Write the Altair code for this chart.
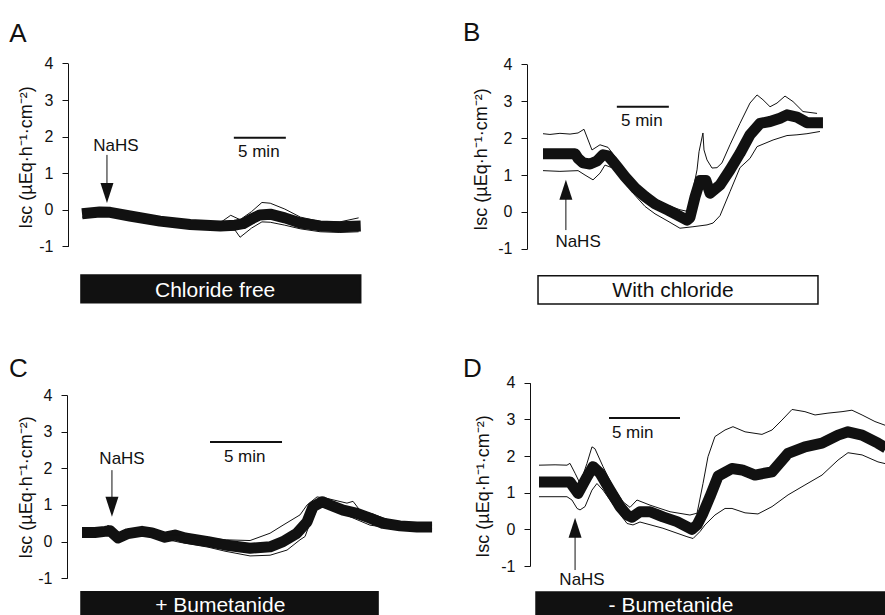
import altair as alt
import pandas as pd

FONT = "Liberation Sans"
INK = "#111111"
TITLE = "Isc (µEq·h⁻¹·cm⁻²)"

# ---------------- data (time in min, Isc in µEq·h-1·cm-2) ----------------
# Panel A - chloride free
A_T_MEAN = [0, 1.7, 2.7, 4.6, 7.5, 10.4, 13.3, 14.7, 15.5, 16.3, 17.1, 18.1, 19.5, 21.0, 22.9, 24.8, 26.8]
A_MEAN = [-0.11, -0.06, -0.07, -0.17, -0.31, -0.40, -0.44, -0.42, -0.38, -0.25, -0.14, -0.12, -0.22, -0.36, -0.44, -0.46, -0.44]
A_T_UP = [0, 1.7, 2.7, 4.6, 7.5, 10.4, 13.3, 14.3, 15.2, 16.3, 17.3, 18.1, 19.5, 21.0, 22.9, 24.8, 26.6]
A_UP = [0.0, 0.04, 0.03, -0.07, -0.22, -0.31, -0.35, -0.15, -0.27, -0.05, 0.2, 0.18, 0.02, -0.2, -0.32, -0.33, -0.22]
A_T_LO = [0, 1.7, 2.7, 4.6, 7.5, 10.4, 13.3, 14.7, 15.2, 16.3, 17.3, 18.1, 19.5, 21.0, 22.9, 24.8, 26.6]
A_LO = [-0.2, -0.15, -0.16, -0.27, -0.41, -0.5, -0.56, -0.55, -0.75, -0.5, -0.33, -0.34, -0.42, -0.52, -0.6, -0.62, -0.6]

# Panel B - with chloride
B_T_MEAN = [0, 3.08, 3.37, 3.85, 4.52, 5.19, 5.77, 6.25, 6.63, 7.21, 7.88, 8.85, 9.81, 10.77, 12.02,
            13.17, 13.85, 14.13, 14.62, 15.1, 15.67, 16.06, 17.02, 17.98, 18.94, 19.9, 20.87, 21.83,
            22.79, 23.46, 24.42, 25.38, 26.92]
B_MEAN = [1.58, 1.58, 1.45, 1.33, 1.3, 1.38, 1.55, 1.52, 1.4, 1.2, 0.96, 0.65, 0.42, 0.22, 0.05,
          -0.12, -0.22, -0.15, 0.41, 0.85, 0.85, 0.51, 0.73, 1.14, 1.59, 2.09, 2.4, 2.45,
          2.54, 2.63, 2.57, 2.42, 2.42]
B_T_UP = [0, 0.67, 1.63, 2.6, 3.37, 3.94, 4.71, 5.48, 6.25, 6.92, 7.88, 8.85, 9.81, 10.77, 12.02,
          13.17, 13.85, 14.42, 14.81, 15.0, 15.38, 15.48, 15.77, 16.25, 16.73, 17.21, 17.98, 18.94,
          19.9, 20.58, 21.15, 21.83, 22.5, 23.27, 24.04, 25.0, 26.35]
B_UP = [2.12, 2.1, 2.13, 2.11, 2.14, 2.24, 1.68, 1.82, 1.75, 1.5, 1.1, 0.78, 0.55, 0.36, 0.18,
        0.06, 0.02, 0.6, 1.14, 1.63, 2.14, 1.68, 1.41, 1.19, 1.2, 1.33, 1.82, 2.4,
        2.95, 3.17, 3.04, 2.85, 2.95, 3.14, 2.99, 2.72, 2.67]
B_T_LO = [0, 1.63, 3.37, 4.04, 4.81, 5.48, 5.96, 6.63, 7.88, 8.85, 9.81, 10.77, 12.02, 13.17,
          14.42, 15.77, 16.35, 17.02, 17.98, 18.94, 19.9, 20.58, 22.12, 23.46, 24.42, 25.38, 26.63]
B_LO = [1.12, 1.1, 1.12, 1.0, 0.87, 1.05, 1.27, 1.2, 0.8, 0.45, 0.15, -0.05, -0.25, -0.44,
        -0.4, -0.35, -0.3, -0.1, 0.55, 1.2, 1.45, 1.77, 1.95, 2.07, 2.09, 2.12, 2.18]

# Panel C - + bumetanide
C_T_MEAN = [0, 0.9, 1.6, 1.94, 2.5, 3.19, 4.17, 4.86, 5.76, 6.46, 7.15, 8.75, 9.93, 11.67, 13.06,
            13.96, 14.93, 15.63, 16.04, 16.67, 17.22, 18.13, 19.1, 20.0, 20.9, 22.08, 23.26, 24.31]
C_MEAN = [0.25, 0.25, 0.28, 0.3, 0.1, 0.22, 0.28, 0.24, 0.12, 0.18, 0.1, 0.0, -0.09, -0.18, -0.14,
          0.0, 0.23, 0.54, 0.95, 1.09, 1.0, 0.86, 0.77, 0.64, 0.5, 0.43, 0.4, 0.4]
C_T_UP = [0, 1.6, 1.81, 2.08, 2.5, 3.19, 4.17, 5.76, 7.15, 8.75, 9.93, 11.67, 13.06, 13.96,
          15.14, 15.63, 16.32, 17.01, 18.4, 18.82, 19.31, 20.21, 22.08, 24.31]
C_UP = [0.3, 0.33, 0.45, 0.3, 0.15, 0.32, 0.34, 0.17, 0.17, 0.1, 0.05, 0.03, 0.23, 0.45,
        0.73, 1.0, 1.22, 1.18, 1.05, 1.1, 0.85, 0.75, 0.48, 0.45]
C_T_LO = [0, 1.6, 2.5, 3.19, 4.17, 5.76, 6.81, 8.75, 9.93, 11.67, 13.06, 14.24, 15.14, 15.49,
          15.83, 16.53, 17.57, 18.61, 20.0, 20.9, 22.08, 24.31]
C_LO = [0.2, 0.23, 0.05, 0.16, 0.22, 0.07, -0.02, -0.15, -0.26, -0.39, -0.37, -0.23, 0.05, 0.14,
        0.5, 1.02, 0.88, 0.68, 0.45, 0.4, 0.37, 0.35]

# Panel D - - bumetanide
D_T_MEAN = [0, 2.18, 2.75, 3.38, 3.8, 4.3, 5.0, 5.7, 6.2, 6.55, 7.11, 7.82, 8.73, 9.72, 10.77,
            11.13, 11.55, 12.04, 12.61, 13.59, 14.3, 15.21, 16.41, 17.54, 18.73, 19.93, 21.06,
            21.76, 22.75, 23.87, 24.44]
D_MEAN = [1.29, 1.29, 0.98, 1.43, 1.71, 1.53, 1.07, 0.62, 0.39, 0.33, 0.48, 0.48, 0.34, 0.21, 0.0,
          0.12, 0.44, 0.89, 1.45, 1.66, 1.62, 1.48, 1.57, 2.07, 2.25, 2.35, 2.57,
          2.66, 2.57, 2.35, 2.22]
D_T_UP = [0, 1.13, 1.97, 2.18, 2.54, 2.89, 3.38, 3.73, 3.94, 4.51, 5.21, 5.92, 6.41, 6.9, 7.82,
          9.23, 10.63, 11.13, 11.55, 11.9, 12.39, 13.1, 13.66, 14.51, 15.7, 16.41, 17.11, 17.82,
          18.73, 19.44, 20.35, 21.34, 22.04, 22.75, 23.66, 24.51]
D_UP = [1.75, 1.76, 1.75, 1.8, 1.53, 1.25, 1.8, 2.25, 2.2, 1.71, 1.16, 0.75, 0.6, 0.8, 0.66,
        0.48, 0.39, 0.44, 1.25, 1.98, 2.53, 2.71, 2.8, 2.66, 2.59, 2.71, 2.98, 3.27,
        3.21, 3.12, 3.17, 3.21, 3.25, 3.12, 2.94, 2.82]
D_T_LO = [0, 1.97, 2.32, 2.68, 2.89, 3.24, 3.73, 4.08, 4.51, 5.49, 6.2, 6.62, 7.11, 8.73, 10.42,
          10.85, 11.34, 11.69, 12.39, 13.1, 13.59, 14.51, 15.42, 16.41, 17.54, 18.73, 19.93,
          21.06, 21.76, 22.75, 23.87, 24.51]
D_LO = [0.89, 0.89, 0.8, 0.57, 0.53, 0.62, 1.07, 1.25, 1.07, 0.53, 0.16, 0.12, 0.2, 0.03, -0.2,
        -0.25, -0.06, 0.12, 0.39, 0.57, 0.57, 0.45, 0.42, 0.62, 0.94, 1.21, 1.48,
        1.89, 2.09, 2.03, 1.84, 1.78]

LETTERS = ["A", "B", "C", "D"]
BOX_LABELS = ["Chloride free", "With chloride", "+ Bumetanide", "- Bumetanide"]
STIM_LABEL = "NaHS"
BAR_LABEL = "5 min"
Y_TICKS = [-1, 0, 1, 2, 3, 4]

# ---------------- layout (pixels) & annotation placement (data units) ----------------
GEOM = [
    dict(x0=82, ppm=10.4, ytop=63.4, ybot=246.4, ax=68, tx=-33, ty=157),
    dict(x0=543, ppm=10.4, ytop=64.3, ybot=248.9, ax=527, tx=-37, ty=159),
    dict(x0=82, ppm=14.4, ytop=395.0, ybot=578.3, ax=67, tx=-32, ty=487),
    dict(x0=539, ppm=14.2, ytop=382.7, ybot=566.0, ax=530, tx=-38, ty=486),
]
ANNOT = [
    dict(box=(-0.1, 26.8, -1.78, -2.54), boxfill=INK, boxtext="white", boxlab=(12.8, -2.38),
         arrow=(2.4, 1.5, 0.6, 0.46), head="down", stim=(3.27, 1.62),
         bar=(14.6, 19.6, 1.97), barlab=(17.0, 1.45), letter=(-7.0, 4.59)),
    dict(box=(-0.48, 26.44, -1.73, -2.49), boxfill="white", boxtext=INK, boxlab=(12.5, -2.3),
         arrow=(2.2, 0.46, -0.49, 0.6), head="up", stim=(3.37, -0.94),
         bar=(7.1, 12.1, 2.85), barlab=(9.5, 2.33), letter=(-7.69, 4.63)),
    dict(box=(-0.07, 20.56, -1.37, -2.6), boxfill=INK, boxtext="white", boxlab=(9.6, -1.91),
         arrow=(2.08, 1.95, 1.0, 0.95), head="down", stim=(2.78, 2.12),
         bar=(8.89, 13.89, 2.72), barlab=(11.3, 2.18), letter=(-5.07, 4.49)),
    dict(box=(-0.21, 26.0, -1.71, -2.6), boxfill=INK, boxtext="white", boxlab=(9.3, -2.25),
         arrow=(2.54, -0.02, -1.11, 0.04), head="up", stim=(3.03, -1.52),
         bar=(4.93, 9.93, 3.04), barlab=(6.6, 2.49), letter=(-5.35, 4.16)),
]
SERIES = [
    (A_T_MEAN, A_MEAN, A_T_UP, A_UP, A_T_LO, A_LO),
    (B_T_MEAN, B_MEAN, B_T_UP, B_UP, B_T_LO, B_LO),
    (C_T_MEAN, C_MEAN, C_T_UP, C_UP, C_T_LO, C_LO),
    (D_T_MEAN, D_MEAN, D_T_UP, D_UP, D_T_LO, D_LO),
]

HEAD_DOWN = "M-0.65,-1L0.65,-1L0,1Z"
HEAD_UP = "M-0.65,1L0.65,1L0,-1Z"


def panel(i):
    g, a = GEOM[i], ANNOT[i]
    tm, m, tu, u, tl, lo = SERIES[i]

    def xs():
        return alt.Scale(domain=[0, 10], range=[g["x0"], g["x0"] + 10 * g["ppm"]], nice=False, zero=False)

    def ys():
        return alt.Scale(domain=[-1, 4], range=[g["ybot"], g["ytop"]], nice=False, zero=False)

    def X(f):
        return alt.X(f"{f}:Q", scale=xs(), axis=None)

    def Y(f):
        return alt.Y(f"{f}:Q", scale=ys(), axis=None)

    yaxis = alt.Axis(
        orient="left", offset=-g["ax"], values=Y_TICKS, labelExpr="'' + datum.value",
        grid=False, domainColor=INK, domainWidth=1, ticks=True, tickColor=INK, tickWidth=1,
        tickSize=6, labelFont=FONT, labelFontSize=16, labelColor=INK, labelPadding=9,
        labelAlign="right", labelBaseline="middle",
        title=TITLE, titleFont=FONT, titleFontSize=18, titleFontWeight="normal", titleColor=INK,
        titleAngle=270, titleBaseline="bottom", titleAlign="center",
        titleX=g["tx"], titleY=g["ty"],
    )

    sem_df = pd.concat([
        pd.DataFrame({"t": tu, "v": u, "s": "upper"}),
        pd.DataFrame({"t": tl, "v": lo, "s": "lower"}),
    ])
    mean_df = pd.DataFrame({"t": tm, "v": m})

    charts = []
    charts.append(alt.Chart(mean_df).mark_line(color=INK, strokeWidth=11, strokeJoin="round",
                                               strokeCap="butt").encode(
        x=X("t"), y=alt.Y("v:Q", scale=ys(), axis=yaxis)))
    charts.append(alt.Chart(sem_df).mark_line(color=INK, strokeWidth=1, strokeJoin="round").encode(
        x=X("t"), y=Y("v"), detail="s:N"))

    bx = a["box"]
    box_df = pd.DataFrame({"x1": [bx[0]], "x2": [bx[1]], "y1": [bx[2]], "y2": [bx[3]]})
    charts.append(alt.Chart(box_df).mark_rect(fill=a["boxfill"], stroke=INK, strokeWidth=1.5).encode(
        x=X("x1"), x2="x2", y=Y("y1"), y2="y2"))
    boxlab_df = pd.DataFrame({"t": [a["boxlab"][0]], "v": [a["boxlab"][1]], "txt": [BOX_LABELS[i]]})
    charts.append(alt.Chart(boxlab_df).mark_text(font=FONT, fontSize=21, color=a["boxtext"],
                                                 align="center", baseline="alphabetic").encode(
        x=X("t"), y=Y("v"), text="txt:N"))

    ar = a["arrow"]
    shaft_df = pd.DataFrame({"t": [ar[0]], "y1": [ar[1]], "y2": [ar[2]]})
    charts.append(alt.Chart(shaft_df).mark_rule(color=INK, strokeWidth=1).encode(
        x=X("t"), y=Y("y1"), y2="y2"))
    head_df = pd.DataFrame({"t": [ar[0]], "v": [ar[3]]})
    charts.append(alt.Chart(head_df).mark_point(
        shape=HEAD_DOWN if a["head"] == "down" else HEAD_UP, size=400, filled=True,
        fill=INK, opacity=1, strokeWidth=0).encode(x=X("t"), y=Y("v")))
    stim_df = pd.DataFrame({"t": [a["stim"][0]], "v": [a["stim"][1]], "txt": [STIM_LABEL]})
    charts.append(alt.Chart(stim_df).mark_text(font=FONT, fontSize=17, color=INK, align="center",
                                               baseline="alphabetic").encode(
        x=X("t"), y=Y("v"), text="txt:N"))

    b = a["bar"]
    bar_df = pd.DataFrame({"x1": [b[0]], "x2": [b[1]], "v": [b[2]]})
    charts.append(alt.Chart(bar_df).mark_rule(color=INK, strokeWidth=2).encode(
        x=X("x1"), x2="x2", y=Y("v")))
    barlab_df = pd.DataFrame({"t": [a["barlab"][0]], "v": [a["barlab"][1]], "txt": [BAR_LABEL]})
    charts.append(alt.Chart(barlab_df).mark_text(font=FONT, fontSize=17, color=INK, align="center",
                                                 baseline="alphabetic").encode(
        x=X("t"), y=Y("v"), text="txt:N"))

    let_df = pd.DataFrame({"t": [a["letter"][0]], "v": [a["letter"][1]], "txt": [LETTERS[i]]})
    charts.append(alt.Chart(let_df).mark_text(font=FONT, fontSize=26, color=INK, align="left",
                                              baseline="alphabetic").encode(
        x=X("t"), y=Y("v"), text="txt:N"))
    return charts


all_layers = []
for i in range(4):
    all_layers.extend(panel(i))

chart = (
    alt.layer(*all_layers)
    .resolve_scale(x="independent", y="independent")
    .resolve_axis(x="independent", y="independent")
    .properties(width=885, height=615, autosize=alt.AutoSizeParams(type="none"),
                padding=0, background="white")
    .configure_view(stroke=None)
)

chart.save("out.html", embed_options={"renderer": "svg", "actions": False})
